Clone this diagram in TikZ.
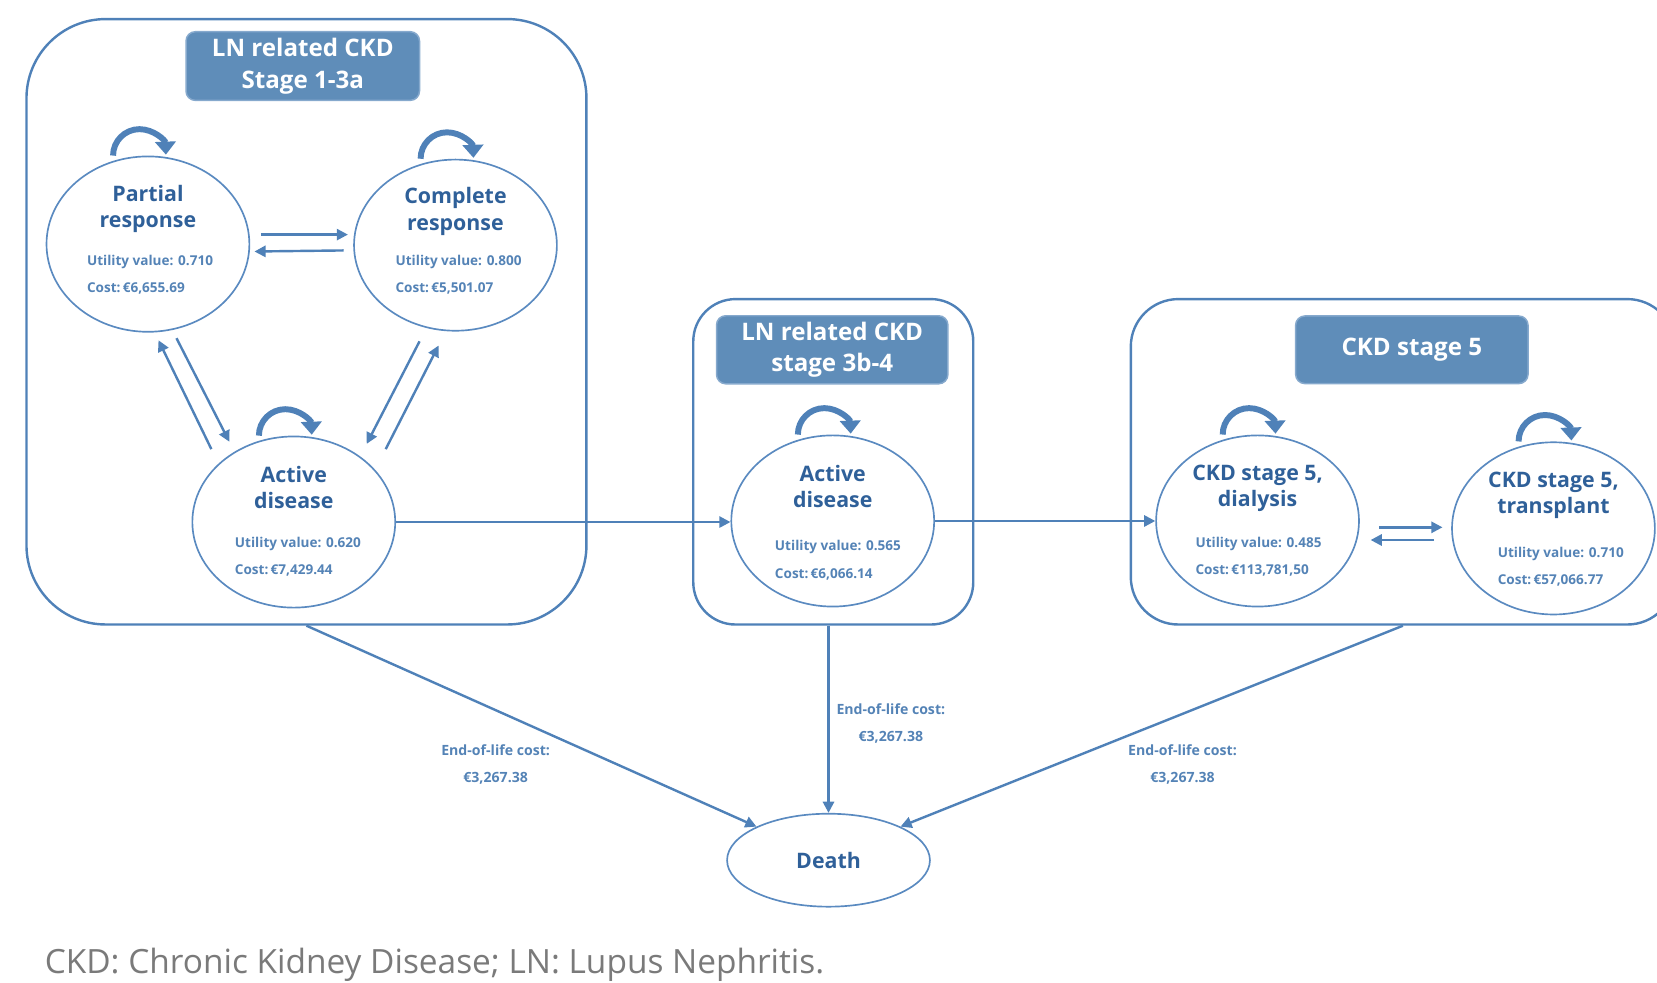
\documentclass[tikz,border=0pt]{standalone}
\usepackage{fontspec}
\setmainfont{Open Sans}
\usetikzlibrary{shapes.geometric,arrows.meta,calc}
\definecolor{lineblue}{HTML}{4F81B8}
\definecolor{ellblue}{HTML}{5A8AC0}
\definecolor{titlefill}{HTML}{5F8DB9}
\definecolor{titleedge}{HTML}{86A9CD}
\definecolor{txtdark}{HTML}{2F6099}
\definecolor{txtlight}{HTML}{5483B6}
\definecolor{capgray}{HTML}{7A7A7A}
\begin{document}
\begin{tikzpicture}[x=0.02cm,y=0.02cm,
  state/.style={ellipse, draw=ellblue, line width=0.9pt, inner sep=0pt, minimum width=3.84cm, minimum height=3.24cm},
  group/.style={rectangle, draw=lineblue, line width=1.3pt, inner sep=0pt},
  header/.style={rectangle, fill=titlefill, draw=titleedge, line width=0.8pt, rounded corners=5pt, minimum width=4.4cm, minimum height=1.28cm, text=white, font=\bfseries\fontsize{13}{17}\selectfont, align=center},
  ttl/.style={text=txtdark, font=\bfseries\fontsize{11.5}{14.2}\selectfont, align=center, inner sep=0pt},
  info/.style={text=txtlight, font=\bfseries\fontsize{7.3}{14.7}\selectfont, align=left, inner sep=0pt, anchor=west},
  trans/.style={draw=lineblue, line width=1.3pt, -{Triangle[width=6pt,length=6pt]}},
  selfloop/.style={draw=lineblue, line width=3.2pt, -{Triangle[width=11pt,length=7pt]}},
  eol/.style={text=txtlight, font=\bfseries\fontsize{7.6}{14.2}\selectfont, align=center, inner sep=0pt}]
\clip (0,0) rectangle (1568,930);
\path[use as bounding box] (0,0) rectangle (1568,930);

% group boxes
\node[group, rounded corners=1.5cm, minimum width=10.6cm, minimum height=11.46cm] (g1) at (290,625.5) {};
\node[group, rounded corners=0.8cm, minimum width=5.3cm, minimum height=6.16cm] (g2) at (788.5,493) {};
\node[group, rounded corners=0.9cm, minimum width=10.3cm, minimum height=6.16cm] (g3) at (1327.5,493) {};

% headers
\node[header, minimum width=4.42cm, minimum height=1.3cm] (h1) at (286.5,867.5) {LN related CKD\\Stage 1-3a};
\node[header, minimum width=4.38cm] (h2) at (787.5,599) {LN related CKD\\stage 3b-4};
\node[header] (h3) at (1336,599) {CKD stage 5};

% states
\node[state, minimum height=3.32cm] (pr) at (140,699) {};
\node[state] (cr) at (431,698) {};
\node[state] (ad1) at (278,436) {};
\node[state] (ad2) at (788,437) {};
\node[state] (dia) at (1190,437) {};
\node[state, minimum height=3.26cm] (tr) at (1470,430) {};
\node[state, minimum height=1.76cm] (death) at (784,116) {};

% state texts
\node[ttl] (prt) at ($(pr)+(0,33.5)$) {Partial\\response};
\node[info] (pri) at ($(pr)+(-58,-29)$) {Utility value: 0.710\\Cost:\,€6,655.69};
\node[ttl] (crt) at ($(cr)+(0,32)$) {Complete\\response};
\node[info] (cri) at ($(cr)+(-57,-28)$) {Utility value: 0.800\\Cost:\,€5,501.07};
\node[ttl] (ad1t) at ($(ad1)+(0,32.5)$) {Active\\disease};
\node[info] (ad1i) at ($(ad1)+(-56,-33)$) {Utility value: 0.620\\Cost:\,€7,429.44};
\node[ttl] (ad2t) at ($(ad2)+(0,32.5)$) {Active\\disease};
\node[info] (ad2i) at ($(ad2)+(-55,-37)$) {Utility value: 0.565\\Cost:\,€6,066.14};
\node[ttl] (diat) at ($(dia)+(0,31)$) {CKD stage 5,\\dialysis};
\node[info] (diai) at ($(dia)+(-59,-34)$) {Utility value: 0.485\\Cost:\,€113,781,50};
\node[ttl] (trt) at ($(tr)+(0,31.5)$) {CKD stage 5,\\transplant};
\node[info] (tri) at ($(tr)+(-53,-36)$) {Utility value: 0.710\\Cost:\,€57,066.77};
\node[ttl] (deatht) at (death) {Death};

% self loops
\foreach \n in {pr,cr,ad1,ad2,dia,tr}{
  \draw[selfloop] (\n.north) ++(-33,0) arc[start angle=180, end angle=2, radius=25];
}

% transitions within stage 1-3a
\draw[trans] ([shift={(10,9)}]pr.east) -- ([shift={(-5,9)}]pr.east -| cr.west);
\draw[trans] ([shift={(-9,-5)}]cr.west) -- ([shift={(4,-6)}]cr.west -| pr.east);
\draw[trans] ($(ad1)+(-78,69)$) -- ($(pr)+(10,-91)$);
\draw[trans] ($(pr)+(27,-89)$) -- ($(ad1)+(-61,76)$);
\draw[trans] ($(cr)+(-34,-91)$) -- ($(ad1)+(69,74)$);
\draw[trans] ($(ad1)+(87,69)$) -- ($(cr)+(-16,-95)$);

% stage 5 transitions
\draw[trans] ($(dia)+(115,-6)$) -- ($(tr)+(-105,1)$);
\draw[trans] ($(tr)+(-113,-11)$) -- ($(dia)+(107,-18)$);

% progression
\draw[trans] (ad1.east) -- (ad1.east -| ad2.west);
\draw[trans] (ad2.east) -- (ad2.east -| dia.west);

% to death
\draw[trans] (g1.south) -- (death.155);
\draw[trans] (g2.south -| death.north) -- (death.north);
\draw[trans] (g3.south) -- (death.25);

\node[eol] (eol1) at (469,206.5) {End-of-life cost:\\€3,267.38};
\node[eol] (eol2) at (843,245.5) {End-of-life cost:\\€3,267.38};
\node[eol] (eol3) at (1119,206.5) {End-of-life cost:\\€3,267.38};

% caption
\node[anchor=base west, text=capgray, font=\fontsize{18}{21}\selectfont, inner sep=0pt] (cap) at (42,9) {CKD: Chronic Kidney Disease; LN: Lupus Nephritis.};
\end{tikzpicture}
\end{document}
